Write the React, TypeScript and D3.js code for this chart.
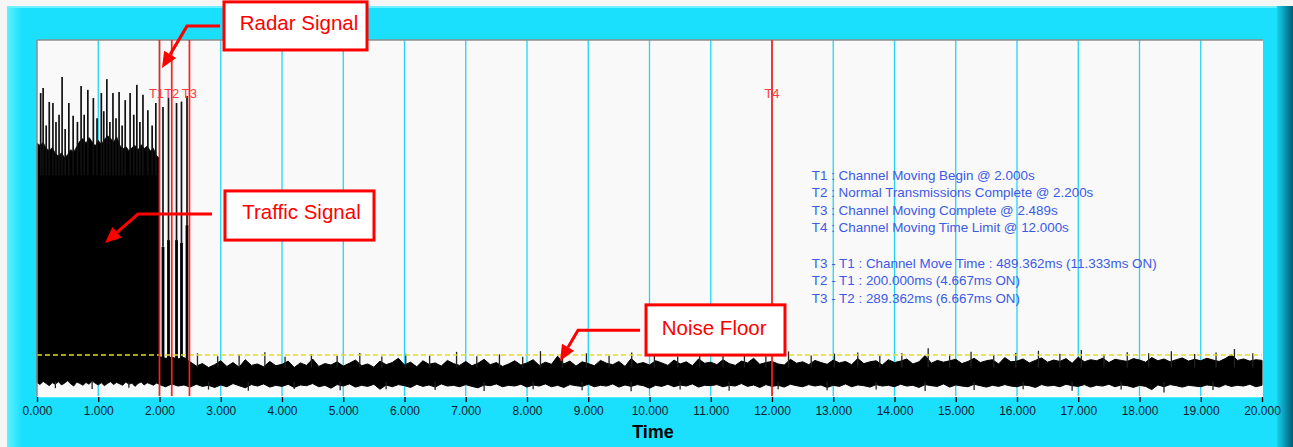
import React, { useEffect, useRef } from "react";
import * as d3 from "d3";

// time axis (s)
const timeTicks = [0, 1, 2, 3, 4, 5, 6, 7, 8, 9, 10, 11, 12, 13, 14, 15, 16, 17, 18, 19, 20];

// traffic signal envelope, 0.000 -> 2.000 s every 0.05 s (amplitude, 0..100 of plot height)
const trafficStep = 0.05;
const trafficUpper = [
  71.0, 70.4, 71.2, 69.6, 68.9, 69.8, 68.1, 67.4, 68.3, 66.9,
  67.8, 69.2, 68.5, 70.1, 71.6, 72.3, 71.0, 72.6, 71.4, 70.2,
  71.8, 70.6, 72.0, 73.1, 72.4, 71.2, 72.8, 70.5, 69.3, 70.1,
  68.9, 69.7, 70.4, 69.1, 70.6, 69.5, 70.2, 68.8, 69.6, 67.5,
  66.8,
];
const trafficLower = [
  3.8, 3.2, 4.1, 3.5, 2.9, 3.7, 3.3, 4.0, 3.1, 3.6,
  4.3, 3.4, 2.8, 3.9, 3.5, 3.0, 3.8, 3.3, 4.2, 3.6,
  3.1, 3.7, 2.9, 3.5, 4.0, 3.2, 3.8, 3.4, 3.0, 3.9,
  3.3, 3.6, 2.7, 3.5, 3.9, 3.1, 3.7, 3.4, 3.0, 3.6,
  3.3,
];
// tall traffic peaks [time, amplitude]
const trafficPeaks: [number, number][] = [
  [0.06, 85.1], [0.10, 86.5], [0.15, 76.0], [0.20, 82.6], [0.26, 82.3], [0.31, 77.0],
  [0.36, 79.0], [0.41, 89.6], [0.46, 75.0], [0.52, 82.3], [0.59, 78.7], [0.66, 77.0],
  [0.72, 87.1], [0.77, 79.0], [0.83, 86.0], [0.92, 83.7], [0.98, 78.0], [1.05, 85.1],
  [1.09, 80.0], [1.14, 89.0], [1.19, 77.0], [1.24, 85.1], [1.29, 78.0], [1.34, 85.4],
  [1.39, 76.0], [1.44, 83.1], [1.52, 85.1], [1.58, 79.0], [1.63, 87.4], [1.68, 77.0],
  [1.73, 84.6], [1.81, 80.3], [1.88, 76.0], [1.94, 82.3],
];

// radar bursts during the channel move [time, body top, peak]
const radarBursts: [number, number, number][] = [
  [2.057, 41.9, 81.2],
  [2.147, 43.8, 83.7],
  [2.278, 43.8, 82.3],
  [2.359, 43.0, 82.7],
  [2.449, 48.0, 84.3],
];

// noise envelope, 2.0 -> 20.0 s every 0.1 s
const noiseStart = 2.0;
const noiseStep = 0.1;
const noiseUpper = [
  11.0, 10.6, 10.9, 10.4, 10.8, 9.6, 8.4, 9.1, 8.0, 8.8,
  9.9, 8.3, 9.4, 8.1, 10.2, 8.6, 9.0, 8.2, 9.7, 8.5,
  8.9, 9.8, 8.0, 9.3, 8.6, 10.4, 8.3, 9.1, 8.7, 9.6,
  8.4, 9.2, 10.1, 8.5, 9.0, 8.1, 9.8, 8.8, 9.4, 10.6,
  8.7, 9.5, 8.2, 9.9, 8.9, 9.3, 8.4, 10.0, 9.1, 8.6,
  9.7, 8.5, 9.2, 10.3, 8.8, 9.4, 8.3, 9.0, 9.9, 8.7,
  9.3, 10.2, 8.6, 9.5, 8.9, 11.2, 9.0, 9.8, 8.4, 9.6,
  9.1, 8.5, 10.0, 9.2, 8.8, 9.7, 8.3, 10.5, 9.0, 9.4,
  8.7, 9.9, 9.3, 8.6, 10.1, 9.0, 9.6, 8.5, 10.4, 9.2,
  9.5, 8.8, 10.2, 9.1, 8.6, 9.8, 9.3, 10.6, 8.9, 9.4,
  9.7, 9.0, 8.7, 10.3, 9.2, 9.6, 8.8, 10.0, 9.4, 8.9,
  10.1, 9.3, 9.7, 8.8, 10.5, 9.1, 9.6, 9.9, 8.7, 10.2,
  9.4, 9.8, 10.4, 9.0, 9.6, 11.4, 9.2, 10.0, 9.5, 9.9,
  10.3, 9.1, 9.7, 10.6, 9.4, 9.9, 10.2, 9.0, 10.8, 9.6,
  9.8, 10.4, 9.3, 10.0, 10.7, 9.5, 10.1, 9.7, 10.5, 9.2,
  10.9, 9.6, 10.2, 9.9, 10.6, 9.4, 10.3, 10.0, 9.7, 10.5,
  10.1, 9.5, 10.8, 9.9, 10.4, 9.6, 10.2, 10.7, 9.8, 10.3,
  9.9, 10.6, 10.1, 9.7, 10.5, 11.6, 10.0, 10.4, 9.8, 10.2,
  10.0,
];
const noiseLower = [
  3.2, 2.6, 3.4, 2.8, 3.1, 2.5, 3.3, 2.7, 3.0, 2.4,
  3.1, 2.6, 3.5, 2.9, 2.3, 3.2, 2.8, 3.4, 2.5, 3.0,
  2.7, 3.3, 2.4, 3.1, 2.9, 3.5, 2.6, 3.0, 2.2, 3.2,
  2.8, 3.4, 2.5, 3.0, 2.7, 3.3, 1.9, 3.1, 2.6, 3.2,
  2.9, 2.4, 3.3, 2.7, 3.1, 2.5, 3.4, 2.8, 3.0, 2.6,
  3.2, 2.7, 2.3, 3.1, 2.9, 3.4, 2.6, 3.0, 2.8, 3.3,
  2.5, 3.1, 2.8, 3.4, 2.6, 3.0, 2.4, 3.2, 2.9, 2.7,
  3.3, 2.6, 3.0, 2.8, 3.4, 2.5, 3.1, 2.7, 3.2, 2.9,
  2.2, 3.0, 2.7, 3.3, 2.6, 3.1, 2.8, 3.4, 2.5, 3.0,
  2.9, 3.2, 2.6, 3.0, 2.8, 3.5, 2.7, 3.1, 2.4, 3.2,
  2.7, 3.0, 2.5, 3.3, 2.9, 2.6, 3.2, 2.8, 3.1, 2.4,
  3.0, 2.7, 3.4, 2.6, 3.1, 2.9, 2.5, 3.2, 2.8, 3.0,
  2.6, 3.3, 2.8, 3.0, 2.4, 3.2, 2.9, 2.7, 3.4, 2.5,
  3.1, 2.8, 2.6, 3.3, 2.9, 2.5, 3.0, 2.7, 3.2, 2.8,
  2.6, 3.1, 2.9, 2.4, 3.2, 2.8, 3.0, 2.6, 3.3, 2.9,
  2.7, 3.2, 2.5, 3.0, 2.8, 3.3, 2.6, 3.1, 2.9, 2.4,
  3.0, 2.7, 1.8, 3.1, 2.6, 3.2, 2.9, 2.5, 3.0, 2.8,
  2.6, 3.1, 2.9, 2.5, 3.2, 2.7, 3.0, 2.8, 3.3, 2.6,
  3.0,
];
// short excursions sticking out of the noise band [time, amplitude]
const noiseSpikesUp: [number, number][] = [
  [2.62, 12.0], [2.95, 11.2], [3.3, 11.6], [3.72, 12.3], [4.05, 11.0], [4.48, 11.8],
  [4.9, 11.3], [5.27, 12.1], [5.63, 11.1], [6.02, 11.9], [6.41, 11.4], [6.85, 12.4],
  [7.18, 11.2], [7.55, 11.7], [7.93, 11.0], [8.22, 12.6], [8.58, 11.5], [8.97, 12.0],
  [9.34, 11.3], [9.71, 12.2], [10.08, 11.6], [10.46, 11.1], [10.82, 12.3], [11.2, 11.7],
  [11.55, 12.0], [11.9, 11.2], [12.27, 12.5], [12.64, 11.4], [13.02, 11.9], [13.4, 12.2],
  [13.76, 11.3], [14.12, 12.0], [14.55, 13.4], [14.9, 11.8], [15.25, 12.4], [15.62, 11.6],
  [15.98, 12.1], [16.35, 12.7], [16.7, 11.9], [17.05, 12.9], [17.42, 11.7], [17.8, 12.3],
  [18.15, 12.0], [18.52, 12.6], [18.9, 11.8], [19.25, 12.2], [19.55, 13.2], [19.85, 12.0],
];
const noiseSpikesDown: [number, number][] = [
  [0.3, 2.2], [0.9, 2.0], [1.5, 2.3], [2.8, 1.8], [3.45, 1.5], [4.2, 2.0], [4.95, 1.6],
  [5.7, 1.9], [6.5, 1.7], [7.3, 1.4], [8.1, 1.9], [8.9, 1.6], [9.7, 1.3], [10.5, 1.8],
  [11.3, 1.5], [12.1, 1.9], [12.9, 1.6], [13.7, 1.8], [14.5, 1.4], [15.3, 1.7],
  [16.1, 1.9], [16.9, 1.5], [17.7, 1.8], [18.4, 1.0], [19.2, 1.7],
];
const noiseFloor = 11.5;

// event markers
const markerNames = ["T1", "T2", "T3", "T4"];
const markerTimes = [2.0, 2.2, 2.489, 12.0];

const infoLines = [
  "T1 : Channel Moving Begin @ 2.000s",
  "T2 : Normal Transmissions Complete @ 2.200s",
  "T3 : Channel Moving Complete @ 2.489s",
  "T4 : Channel Moving Time Limit @ 12.000s",
  "",
  "T3 - T1 : Channel Move Time : 489.362ms (11.333ms ON)",
  "T2 - T1 : 200.000ms (4.667ms ON)",
  "T3 - T2 : 289.362ms (6.667ms ON)",
];

// callouts, in data units: box [t0, t1, vTop, vBottom], text anchor, arrow start/elbow/tip
const callouts = [
  { label: "Radar Signal", box: [3.053, 5.388, 110.7, 97.2], text: [3.31, 102.8],
    arrow: [[2.988, 103.9], [2.449, 103.9], [2.041, 92.1]] },
  { label: "Traffic Signal", box: [3.069, 5.502, 57.6, 43.8], text: [3.35, 49.7],
    arrow: [[2.857, 51.1], [1.649, 51.1], [1.110, 43.0]] },
  { label: "Noise Floor", box: [9.943, 12.212, 25.6, 11.5], text: [10.2, 17.1],
    arrow: [[9.845, 18.5], [8.833, 18.5], [8.539, 9.8]] },
];

const FONT = "'Liberation Sans', Arial, sans-serif";

const App: React.FC = () => {
  const svgRef = useRef<SVGSVGElement | null>(null);

  useEffect(() => {
    const svg = d3.select(svgRef.current);
    svg.selectAll("*").remove();
    const width = 1293;
    const height = 447;
    const plot = { left: 37, right: 1262, top: 40, bottom: 396 };

    const x = d3.scaleLinear().domain([0, 20]).range([plot.left, plot.right]);
    const y = d3.scaleLinear().domain([0, 100]).range([plot.bottom, plot.top]);

    const defs = svg.append("defs");
    const lg = defs.append("linearGradient").attr("id", "leftBevel");
    lg.append("stop").attr("offset", "0%").attr("stop-color", "#5ff2ff");
    lg.append("stop").attr("offset", "100%").attr("stop-color", "#1ae0fe");
    const rg = defs.append("linearGradient").attr("id", "rightBevel");
    rg.append("stop").attr("offset", "0%").attr("stop-color", "#14d2ee");
    rg.append("stop").attr("offset", "100%").attr("stop-color", "#005c72");

    // page + panel
    svg.append("rect").attr("width", width).attr("height", height).attr("fill", "#f6f6f6");
    svg.append("rect").attr("x", 7).attr("y", 6).attr("width", width - 7).attr("height", height - 6).attr("fill", "#1ae0fe");
    svg.append("rect").attr("x", 7).attr("y", 6).attr("width", 15).attr("height", height - 6).attr("fill", "url(#leftBevel)");
    svg.append("rect").attr("x", 1277).attr("y", 6).attr("width", 16).attr("height", height - 6).attr("fill", "url(#rightBevel)");
    svg.append("rect").attr("x", 7).attr("y", 6).attr("width", 1270).attr("height", 2).attr("fill", "#6ff0ff");

    // plot area
    svg.append("rect")
      .attr("x", plot.left).attr("y", plot.top)
      .attr("width", plot.right - plot.left + 1).attr("height", plot.bottom - plot.top)
      .attr("fill", "#f9f9f9");
    svg.append("line").attr("x1", plot.left).attr("x2", plot.right + 1).attr("y1", plot.bottom + 0.5).attr("y2", plot.bottom + 0.5)
      .attr("stroke", "#ffffff").attr("stroke-width", 1.5);

    // vertical grid
    svg.append("g").selectAll("line")
      .data(timeTicks.filter((t) => t > 0 && t < 20))
      .join("line")
      .attr("x1", (d) => x(d)).attr("x2", (d) => x(d))
      .attr("y1", plot.top).attr("y2", plot.bottom)
      .attr("stroke", "#22d4f4").attr("stroke-width", 1.3);

    // traffic signal
    const trafficArea = d3.area<number>()
      .x((_, i) => x(i * trafficStep))
      .y0((_, i) => y(trafficLower[i]))
      .y1((d) => y(d));
    svg.append("path").datum(trafficUpper).attr("d", trafficArea).attr("fill", "#000")
      .attr("stroke", "#000").attr("stroke-width", 0.8);

    svg.append("g").selectAll("line")
      .data(trafficPeaks)
      .join("line")
      .attr("x1", (d) => x(d[0])).attr("x2", (d) => x(d[0]))
      .attr("y1", y(62)).attr("y2", (d) => y(d[1]))
      .attr("stroke", "#111").attr("stroke-width", 1.7);

    // noise
    const noiseArea = d3.area<number>()
      .x((_, i) => x(noiseStart + i * noiseStep))
      .y0((_, i) => y(noiseLower[i]))
      .y1((d) => y(d));
    svg.append("path").datum(noiseUpper).attr("d", noiseArea).attr("fill", "#000")
      .attr("stroke", "#000").attr("stroke-width", 1);

    svg.append("g").selectAll("line")
      .data(noiseSpikesUp)
      .join("line")
      .attr("x1", (d) => x(d[0])).attr("x2", (d) => x(d[0]))
      .attr("y1", y(8)).attr("y2", (d) => y(d[1]))
      .attr("stroke", "#222").attr("stroke-width", 1.3);
    svg.append("g").selectAll("line")
      .data(noiseSpikesDown)
      .join("line")
      .attr("x1", (d) => x(d[0])).attr("x2", (d) => x(d[0]))
      .attr("y1", y(4)).attr("y2", (d) => y(d[1]))
      .attr("stroke", "#222").attr("stroke-width", 1.3);

    // radar bursts
    const bursts = svg.append("g");
    bursts.selectAll("rect")
      .data(radarBursts)
      .join("rect")
      .attr("x", (d) => x(d[0]) - 1.4).attr("width", 2.8)
      .attr("y", (d) => y(d[1])).attr("height", (d) => y(5) - y(d[1]))
      .attr("fill", "#000");
    bursts.selectAll("line")
      .data(radarBursts)
      .join("line")
      .attr("x1", (d) => x(d[0])).attr("x2", (d) => x(d[0]))
      .attr("y1", (d) => y(d[1])).attr("y2", (d) => y(d[2]))
      .attr("stroke", "#111").attr("stroke-width", 1.7);

    // noise floor
    svg.append("line")
      .attr("x1", x(0)).attr("x2", x(20))
      .attr("y1", y(noiseFloor)).attr("y2", y(noiseFloor))
      .attr("stroke", "#e6de1a").attr("stroke-width", 1.4).attr("stroke-dasharray", "5,3");

    // plot border (top / left)
    svg.append("line").attr("x1", plot.left).attr("x2", plot.right + 1).attr("y1", plot.top).attr("y2", plot.top)
      .attr("stroke", "#8c8c8c").attr("stroke-width", 1.5);
    svg.append("line").attr("x1", plot.left).attr("x2", plot.left).attr("y1", plot.top).attr("y2", plot.bottom)
      .attr("stroke", "#8c8c8c").attr("stroke-width", 1.5);

    // markers
    const markers = svg.append("g");
    markerTimes.forEach((t, i) => {
      markers.append("line")
        .attr("x1", x(t)).attr("x2", x(t))
        .attr("y1", plot.top).attr("y2", plot.bottom)
        .attr("stroke", "#ff1e1e").attr("stroke-width", 1.7);
      markers.append("text")
        .attr("x", x(t) - (i === 0 ? 3 : 0)).attr("y", 98)
        .attr("text-anchor", "middle")
        .style("font-family", FONT).style("font-size", "13px")
        .attr("fill", "#ff3b3b")
        .text(markerNames[i]);
    });

    // info text
    const info = svg.append("g")
      .style("font-family", FONT).style("font-size", "13.4px").attr("fill", "#3c5ae6");
    infoLines.forEach((line, i) => {
      if (!line) return;
      info.append("text").attr("x", x(12.65)).attr("y", 179.5 + i * 17.6).text(line);
    });

    // callouts
    callouts.forEach((c) => {
      const g = svg.append("g");
      const [t0, t1, vTop, vBot] = c.box;
      const pts = c.arrow.map(([t, v]) => [x(t), y(v)] as [number, number]);
      const tip = pts[2];
      const elbow = pts[1];
      const dx = tip[0] - elbow[0];
      const dy = tip[1] - elbow[1];
      const len = Math.hypot(dx, dy);
      const ux = dx / len, uy = dy / len;
      const headLen = 16, headW = 7;
      const base: [number, number] = [tip[0] - ux * headLen, tip[1] - uy * headLen];
      g.append("path")
        .attr("d", d3.line()([pts[0], elbow, base]))
        .attr("fill", "none").attr("stroke", "#ff0000").attr("stroke-width", 3);
      g.append("path")
        .attr("d", d3.line()([
          tip,
          [base[0] - uy * headW, base[1] + ux * headW],
          [base[0] + uy * headW, base[1] - ux * headW],
        ]) + "Z")
        .attr("fill", "#ff0000");
      g.append("rect")
        .attr("x", x(t0)).attr("y", y(vTop))
        .attr("width", x(t1) - x(t0)).attr("height", y(vBot) - y(vTop))
        .attr("fill", "#ffffff").attr("stroke", "#ff0000").attr("stroke-width", 3);
      g.append("text")
        .attr("x", x(c.text[0])).attr("y", y(c.text[1]))
        .style("font-family", FONT).style("font-size", "20.5px")
        .attr("fill", "#ff0000")
        .text(c.label);
    });

    // x axis
    const axis = svg.append("g")
      .attr("transform", `translate(0, ${plot.bottom + 1})`)
      .call(
        d3.axisBottom(x)
          .tickValues(timeTicks)
          .tickFormat(d3.format(".3f"))
          .tickSizeInner(5)
          .tickSizeOuter(0)
          .tickPadding(4)
      );
    axis.select(".domain").remove();
    axis.selectAll(".tick line").attr("stroke", "#000").attr("stroke-width", 1.3);
    axis.selectAll(".tick text")
      .style("font-family", FONT).style("font-size", "12px").attr("fill", "#0c2030");

    svg.append("text")
      .attr("x", 653).attr("y", 438)
      .attr("text-anchor", "middle")
      .style("font-family", FONT).style("font-size", "18px").style("font-weight", "bold")
      .attr("fill", "#000")
      .text("Time");
  }, []);

  return (
    <div style={{ position: "absolute", left: 0, top: 0 }}>
      <svg ref={svgRef} width={1293} height={447} style={{ display: "block" }}></svg>
    </div>
  );
};

export default App;
